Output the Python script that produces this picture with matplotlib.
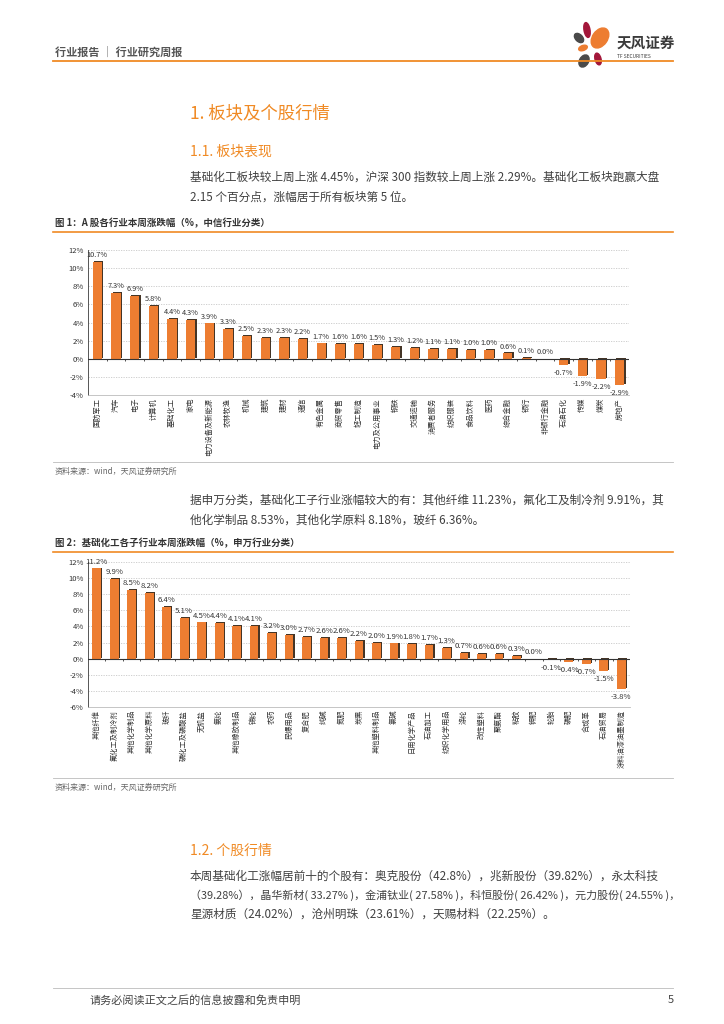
import matplotlib
matplotlib.use("Agg")
import matplotlib.pyplot as plt
import matplotlib.patheffects as pe
from matplotlib.patches import Ellipse
from matplotlib.lines import Line2D

plt.rcParams['font.family'] = ['Noto Sans CJK SC', 'DejaVu Sans']

# ---- data: figure 1 (CITIC industries, weekly change %)
ind_names = ["国防军工", "汽车", "电子", "计算机", "基础化工", "家电", "电力设备及新能源",
             "农林牧渔", "机械", "建筑", "建材", "通信", "有色金属", "商贸零售", "轻工制造",
             "电力及公用事业", "钢铁", "交通运输", "消费者服务", "纺织服装", "食品饮料", "医药",
             "综合金融", "银行", "非银行金融", "石油石化", "传媒", "煤炭", "房地产"]
ind_chg = [10.7, 7.3, 6.9, 5.8, 4.4, 4.3, 3.9, 3.3, 2.5, 2.3, 2.3, 2.2, 1.7, 1.6, 1.6,
           1.5, 1.3, 1.2, 1.1, 1.1, 1.0, 1.0, 0.6, 0.1, 0.0, -0.7, -1.9, -2.2, -2.9]
ind_yticks = [-4, -2, 0, 2, 4, 6, 8, 10, 12]

# ---- data: figure 2 (SW chemical sub-industries, weekly change %)
sub_names = ["其他纤维", "氟化工及制冷剂", "其他化学制品", "其他化学原料", "玻纤",
             "磷化工及磷酸盐", "无机盐", "氨纶", "其他橡胶制品", "锦纶", "农药", "民爆用品",
             "复合肥", "纯碱", "氮肥", "炭黑", "其他塑料制品", "氯碱", "日用化学产品", "石油加工",
             "纺织化学用品", "涤纶", "改性塑料", "聚氨酯", "粘胶", "钾肥", "轮胎", "磷肥",
             "合成革", "石油贸易", "涂料油漆油墨制造"]
sub_chg = [11.2, 9.9, 8.5, 8.2, 6.4, 5.1, 4.5, 4.4, 4.1, 4.1, 3.2, 3.0, 2.7, 2.6, 2.6,
           2.2, 2.0, 1.9, 1.8, 1.7, 1.3, 0.7, 0.6, 0.6, 0.3, 0.0, -0.1, -0.4, -0.7, -1.5, -3.8]
sub_yticks = [-6, -4, -2, 0, 2, 4, 6, 8, 10, 12]

ORANGE = "#ED7D31"
LINE_OR = "#F08A24"
TXT = "#404040"

W, H = 724, 1024
fig = plt.figure(figsize=(W / 100, H / 100), dpi=100)


def fx(x):
    return x / W


def fy(y):
    return 1 - y / H


def hline(y, x0=53, x1=673, color=LINE_OR, lw=1.0):
    fig.add_artist(Line2D([fx(x0), fx(x1)], [fy(y), fy(y)], color=color, lw=lw))


def txt(x, y, s, size=8.5, color=TXT, **kw):
    fig.text(fx(x), fy(y), s, fontsize=size, color=color, va="center", ha=kw.pop("ha", "left"), **kw)


# header
txt(55, 52, "行业报告 │ 行业研究周报", size=8, color="#555555", fontweight="bold")
hline(61, lw=1.3)
# logo
lax = fig.add_axes([fx(570), fy(70), fx(50), 50 / H])
lax.set_xlim(0, 50)
lax.set_ylim(0, 50)
lax.axis("off")
for (cx, cy, w, h, ang, c) in [(30, 32, 15, 22, -35, ORANGE), (17, 40, 6, 15, 10, "#A3173A"),
                                (9, 32, 7, 11, 45, "#4A4A4A"), (13, 22, 9, 5, 20, ORANGE),
                                (14, 9, 9, 13, -30, "#4A4A4A"), (28, 11, 6, 12, 15, "#A3173A")]:
    lax.add_patch(Ellipse((cx, cy), w, h, angle=ang, color=c))
txt(617, 43, "天风证券", size=10.5, color="#3a3a3a", fontweight="bold")
txt(617, 56, "TF SECURITIES", size=3.5, color="#3a3a3a")

# section headings and text
txt(190, 113, "1. 板块及个股行情", size=12.5, color=LINE_OR, fontweight="medium")
txt(190, 152, "1.1. 板块表现", size=10, color=LINE_OR, fontweight="medium")
txt(190, 177, "基础化工板块较上周上涨 4.45%，沪深 300 指数较上周上涨 2.29%。基础化工板块跑赢大盘", size=8.4)
txt(190, 197, "2.15 个百分点，涨幅居于所有板块第 5 位。", size=8.4)

txt(55, 223, "图 1：A 股各行业本周涨跌幅（%，中信行业分类）", size=6.8, color="#333333", fontweight="bold")
hline(232, lw=1.2)
hline(462, color="#BBBBBB", lw=0.6)
txt(55, 471, "资料来源：wind，天风证券研究所", size=5.8, color="#666666")

txt(190, 500, "据申万分类，基础化工子行业涨幅较大的有：其他纤维 11.23%，氟化工及制冷剂 9.91%，其", size=8.4)
txt(190, 520, "他化学制品 8.53%，其他化学原料 8.18%，玻纤 6.36%。", size=8.4)

txt(55, 543, "图 2：基础化工各子行业本周涨跌幅（%，申万行业分类）", size=6.8, color="#333333", fontweight="bold")
hline(552, lw=1.2)
hline(778, color="#BBBBBB", lw=0.6)
txt(55, 787, "资料来源：wind，天风证券研究所", size=5.8, color="#666666")

txt(190, 851, "1.2. 个股行情", size=10, color=LINE_OR, fontweight="medium")
txt(190, 876, "本周基础化工涨幅居前十的个股有：奥克股份（42.8%），兆新股份（39.82%），永太科技", size=8.4)
txt(190, 895, "（39.28%），晶华新材( 33.27% )，金浦钛业( 27.58% )，科恒股份( 26.42% )，元力股份( 24.55% )，", size=7.9)
txt(190, 914, "星源材质（24.02%），沧州明珠（23.61%），天赐材料（22.25%）。", size=8.4)

hline(988, color="#BBBBBB", lw=0.6)
txt(90, 1000, "请务必阅读正文之后的信息披露和免责申明", size=8, color="#444444")
txt(668, 1000, "5", size=8, color="#444444")

shadow = [pe.SimplePatchShadow(offset=(0.9, 0.6), shadow_rgbFace="#3b2a1a", alpha=0.95), pe.Normal()]


def bar_chart(rect, names, vals, yticks, lab_size, name_size):
    ax = fig.add_axes(rect)
    n = len(vals)
    xs = list(range(n))
    bars = ax.bar(xs, vals, width=0.5, color=ORANGE, zorder=3)
    for b in bars:
        b.set_path_effects(shadow)
    ax.set_xlim(-0.5, n - 0.5)
    ax.set_ylim(yticks[0], yticks[-1])
    ax.set_yticks(yticks)
    ax.set_yticklabels([f"{t}%" for t in yticks], fontsize=5.5, color="#333333")
    ax.yaxis.grid(True, linestyle=(0, (1.5, 1.5)), color="#C8C8C8", lw=0.6)
    ax.set_axisbelow(True)
    ax.tick_params(axis="y", length=0, pad=3)
    ax.set_xticks(xs)
    ax.set_xticklabels(names, rotation=90, fontsize=name_size, color="#333333", va="top", ha="center")
    ax.tick_params(axis="x", length=0, pad=2)
    for s in ["top", "right"]:
        ax.spines[s].set_visible(False)
    ax.spines["left"].set_color("#555555")
    ax.spines["left"].set_linewidth(0.7)
    ax.spines["bottom"].set_color("#BBBBBB")
    ax.spines["bottom"].set_linewidth(0.6)
    ax.axhline(0, color="#333333", lw=0.8, zorder=4)
    ax.vlines([i + 0.5 for i in xs], -0.25, 0, color="#333333", lw=0.6, zorder=4)
    for x, v in zip(xs, vals):
        off = 2 if v >= 0 else -3
        ax.annotate(f"{v:.1f}%", (x, v), xytext=(0, off), textcoords="offset points",
                    ha="center", va="bottom" if v >= 0 else "top", fontsize=lab_size,
                    color="#333333", zorder=5)
    return ax


bar_chart([fx(88), fy(395), fx(629) - fx(88), 145 / H], ind_names, ind_chg, ind_yticks, 5.3, 5.2)
bar_chart([fx(88), fy(707), fx(630) - fx(88), 145 / H], sub_names, sub_chg, sub_yticks, 5.6, 5.2)

fig.savefig("out.png", dpi=100)
